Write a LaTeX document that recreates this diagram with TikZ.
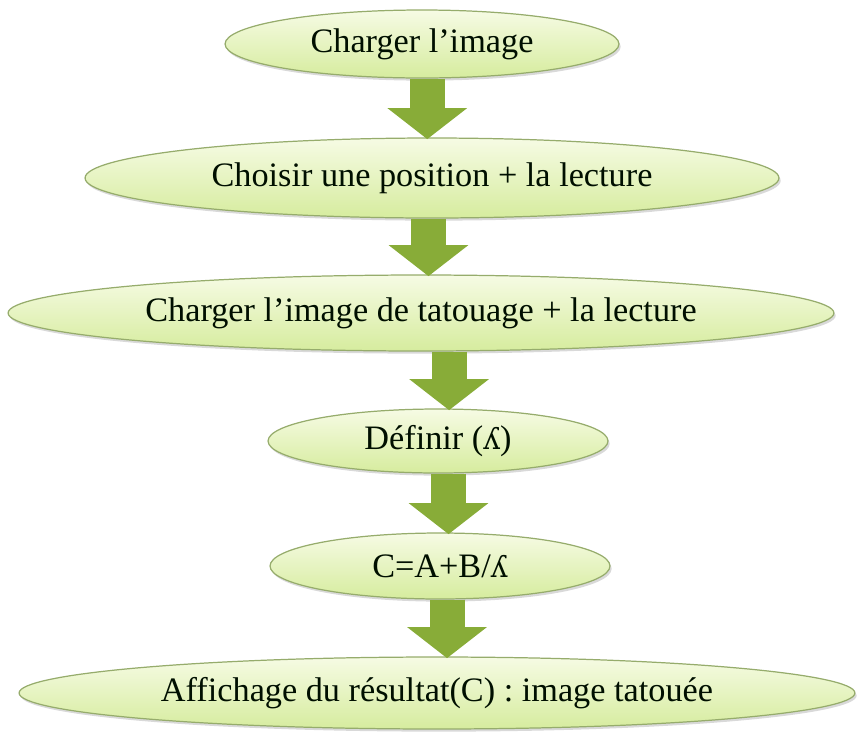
\documentclass[tikz,border=0pt]{standalone}
\usepackage{fontspec}
\setmainfont{Liberation Serif}
\newfontfamily\ipafont{DejaVu Serif}
\usetikzlibrary{shapes.geometric,arrows.meta,shadows}
\providecommand{\lam}{{\ipafont\fontsize{17pt}{20pt}\selectfont ʎ}}

\definecolor{etapetop}{RGB}{246,251,228}
\definecolor{etapebot}{RGB}{214,236,158}
\definecolor{etapeline}{RGB}{150,172,108}
\definecolor{flechecol}{RGB}{136,172,56}

\tikzset{
    etape/.style={ellipse,draw=etapeline,line width=0.7pt,top color=etapetop,bottom color=etapebot,
        inner sep=0,drop shadow={opacity=0.3,shadow xshift=1pt,shadow yshift=-1.5pt},
        text=black!85!green!40!black,font=\fontsize{19.5pt}{23pt}\selectfont},
    fleche/.style={draw=flechecol,line width=0.7cm,-{Triangle[width=1.56cm,length=0.62cm,fill=flechecol]},shorten >=-1pt}
}

\begin{document}
\begin{tikzpicture}[x=0.02cm,y=-0.02cm]
    \useasboundingbox (0,0) rectangle (866,731);
    \node[etape,minimum width=7.88cm,minimum height=1.36cm] (load) at (422,44) {Charger l'image};
    \node[etape,minimum width=13.88cm,minimum height=1.6cm] (pos) at (432,178) {Choisir une position + la lecture};
    \node[etape,minimum width=16.52cm,minimum height=1.52cm] (wmark) at (421,313) {Charger l'image de tatouage + la lecture};
    \node[etape,minimum width=6.8cm,minimum height=1.28cm] (lambda) at (438,441) {Définir (\lam)};
    \node[etape,minimum width=6.8cm,minimum height=1.32cm] (comb) at (440,566) {C=A+B/\lam};
    \node[etape,minimum width=16.72cm,minimum height=1.44cm] (result) at (437,693) {Affichage du résultat(C) : image tatouée};
    % fleches entre les etapes
    \draw[fleche] ([xshift=3]load.south) -- ([xshift=3]load.south |- pos.north);
    \draw[fleche] ([xshift=-2]pos.south) -- ([xshift=-2]pos.south |- wmark.north);
    \draw[fleche] ([xshift=16]wmark.south) -- ([xshift=16]wmark.south |- lambda.north);
    \draw[fleche] ([xshift=6]lambda.south) -- ([xshift=6]lambda.south |- comb.north);
    \draw[fleche] ([xshift=4]comb.south) -- ([xshift=4]comb.south |- result.north);
\end{tikzpicture}
\end{document}
